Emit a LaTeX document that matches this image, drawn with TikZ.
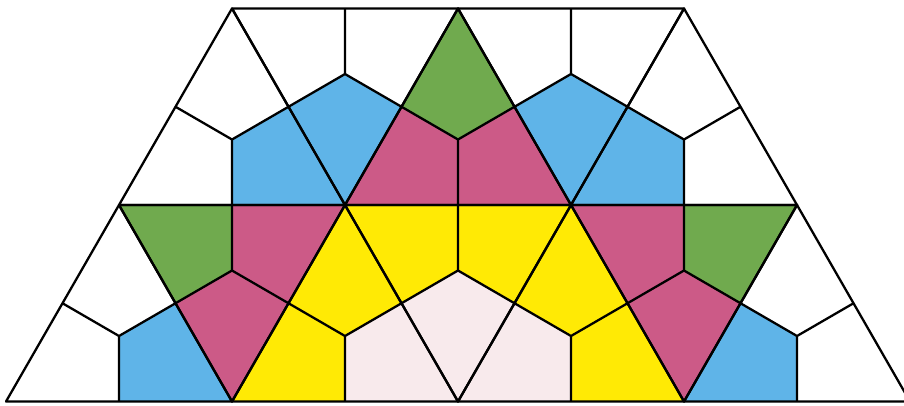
\documentclass[tikz,border=0pt]{standalone}
\usepackage{tikz}
\usetikzlibrary{calc}
\usepackage{xcolor}

\definecolor{tblue}{HTML}{5FB4E8}
\definecolor{tmagenta}{HTML}{CC5A87}
\definecolor{tgreen}{HTML}{70AA4E}
\definecolor{tyellow}{HTML}{FFEA05}
\definecolor{tpink}{HTML}{F8EAEC}

% each triangle: its three corners, then the colour of the kite at each corner
\def\tiles{m0/m1/t0/white/tblue/white,
           t0/t1/m1/white/white/tblue,
           m1/m2/t1/tmagenta/tmagenta/tgreen,
           t1/t2/m2/white/white/tblue,
           m2/m3/t2/tblue/white/white,
           b0/b1/m0/white/tblue/white,
           m0/m1/b1/tgreen/tmagenta/tmagenta,
           b1/b2/m1/tyellow/tpink/tyellow,
           m1/m2/b2/tyellow/tyellow/tpink,
           b2/b3/m2/tpink/tyellow/tyellow,
           m2/m3/b3/tmagenta/tgreen/tmagenta,
           b3/b4/m3/tblue/white/white}

\begin{document}
\begin{tikzpicture}[edge/.style={line width=1.3pt, line join=round}]
    \useasboundingbox (0,0) rectangle (18.08,8.1);
    \clip (0,0) rectangle (18.08,8.1);

    % Lattice points
    \foreach \i in {0,...,4} \coordinate (b\i) at (0.12+4.52*\i,0.07);
    \foreach \i in {0,...,3} \coordinate (m\i) at (2.38+4.52*\i,4.0);
    \foreach \i in {0,...,2} \coordinate (t\i) at (4.64+4.52*\i,7.93);

    % Kites
    \foreach \p/\q/\r/\cp/\cq/\cr in \tiles {
        \coordinate (c) at ($0.333333*(\p)+0.333333*(\q)+0.333333*(\r)$);
        \fill[\cp] (\p) -- ($(\p)!0.5!(\q)$) -- (c) -- ($(\p)!0.5!(\r)$) -- cycle;
        \fill[\cq] (\q) -- ($(\q)!0.5!(\r)$) -- (c) -- ($(\q)!0.5!(\p)$) -- cycle;
        \fill[\cr] (\r) -- ($(\r)!0.5!(\p)$) -- (c) -- ($(\r)!0.5!(\q)$) -- cycle;
    }

    % Outlines
    \foreach \p/\q/\r/\cp/\cq/\cr in \tiles {
        \coordinate (c) at ($0.333333*(\p)+0.333333*(\q)+0.333333*(\r)$);
        \draw[edge] (\p) -- (\q) -- (\r) -- cycle;
        \draw[edge] (c) -- ($(\p)!0.5!(\q)$)
                    (c) -- ($(\q)!0.5!(\r)$)
                    (c) -- ($(\r)!0.5!(\p)$);
    }
\end{tikzpicture}
\end{document}
